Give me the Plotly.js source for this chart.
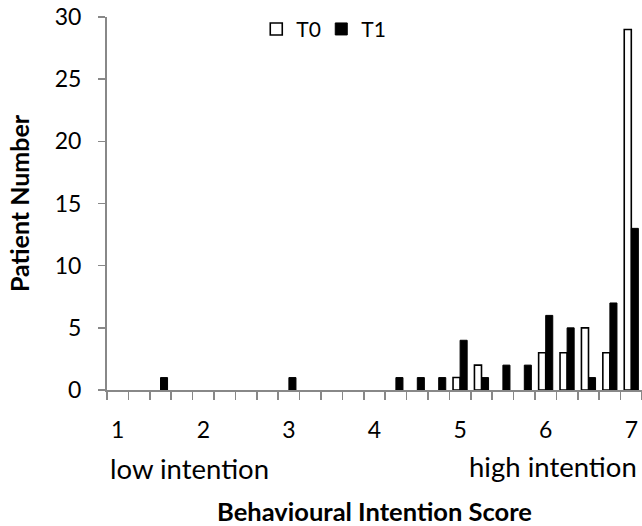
<!DOCTYPE html>
<html>
<head>
<meta charset="utf-8">
<script src="https://cdn.plot.ly/plotly-3.0.1.min.js"></script>
<style>html,body{margin:0;padding:0;background:#fff;}#chart{width:642px;height:526px;}</style>
</head>
<body>
<div id="chart"></div>
<script>
var scores = [1, 1.25, 1.5, 1.75, 2, 2.25, 2.5, 2.75, 3, 3.25, 3.5, 3.75, 4, 4.25, 4.5, 4.75, 5, 5.25, 5.5, 5.75, 6, 6.25, 6.5, 6.75, 7];
var t0 = [0, 0, 0, 0, 0, 0, 0, 0, 0, 0, 0, 0, 0, 0, 0, 0, 1, 2, 0, 0, 3, 3, 5, 3, 29];
var t1 = [0, 0, 1, 0, 0, 0, 0, 0, 1, 0, 0, 0, 0, 1, 1, 1, 4, 1, 2, 2, 6, 5, 1, 7, 13];
var xTickLabels = ["1", "2", "3", "4", "5", "6", "7"];
var yTicks = [0, 5, 10, 15, 20, 25, 30];

var FONT = "Lato, 'Open Sans', sans-serif";
var step = scores[1] - scores[0];
var xTickVals = xTickLabels.map(Number);
// zero counts draw no bar (avoids outlines lying on the baseline)
function hideZero(vals) { return vals.map(function (v) { return v === 0 ? null : v; }); }

var traces = [
  {type: "bar", name: "T0", x: scores, y: hideZero(t0),
   marker: {color: "#ffffff", line: {color: "#000000", width: 1.6}}},
  {type: "bar", name: "T1", x: scores, y: hideZero(t1),
   marker: {color: "#000000", line: {color: "#000000", width: 1}}}
];

var layout = {
  width: 642, height: 526,
  margin: {l: 107, r: 0, t: 17, b: 136},
  paper_bgcolor: "#ffffff", plot_bgcolor: "#ffffff",
  font: {family: FONT, color: "#000000", size: 20},
  barmode: "group", bargap: 0.34, bargroupgap: 0,
  showlegend: true,
  legend: {orientation: "h", x: 0.279, y: 1.022, xanchor: "left", yanchor: "top",
           font: {family: FONT, size: 21}, bgcolor: "rgba(0,0,0,0)",
           itemwidth: 30, entrywidth: 20, entrywidthmode: "pixels", tracegroupgap: 0},
  xaxis: {
    range: [scores[0] - step / 2, scores[scores.length - 1] + step / 2],
    tickmode: "array", tickvals: xTickVals, ticktext: xTickLabels,
    ticks: "outside", ticklen: 8, tickcolor: "rgba(0,0,0,0)",
    ticklabelstandoff: 10,
    tickfont: {family: FONT, size: 23},
    minor: {tick0: scores[0] - step / 2, dtick: step, ticks: "outside", ticklen: 8, tickwidth: 1.5, tickcolor: "#888888", showgrid: false},
    showline: true, linecolor: "#888888", linewidth: 2,
    showgrid: false, zeroline: false, fixedrange: true,
    title: {text: "<b>Behavioural Intention Score</b>", font: {family: FONT, size: 25.5}, standoff: 62}
  },
  yaxis: {
    range: [0, 30], tickmode: "array", tickvals: yTicks,
    ticks: "outside", ticklen: 7, tickwidth: 1.5, tickcolor: "#888888",
    ticklabelstandoff: 12,
    tickfont: {family: FONT, size: 23},
    showline: true, linecolor: "#888888", linewidth: 2,
    showgrid: false, zeroline: false, fixedrange: true,
    title: {text: "<b>Patient Number</b>", font: {family: FONT, size: 25}, standoff: 18}
  },
  annotations: [
    {xref: "paper", yref: "paper", x: 0.002, y: -0.21, xanchor: "left", yanchor: "middle",
     text: "low intention", showarrow: false, font: {family: FONT, size: 27.5}},
    {xref: "paper", yref: "paper", x: 0.995, y: -0.205, xanchor: "right", yanchor: "middle",
     text: "high intention", showarrow: false, font: {family: FONT, size: 27.5}}
  ]
};

Plotly.newPlot("chart", traces, layout, {displayModeBar: false, staticPlot: true});
</script>
</body>
</html>
